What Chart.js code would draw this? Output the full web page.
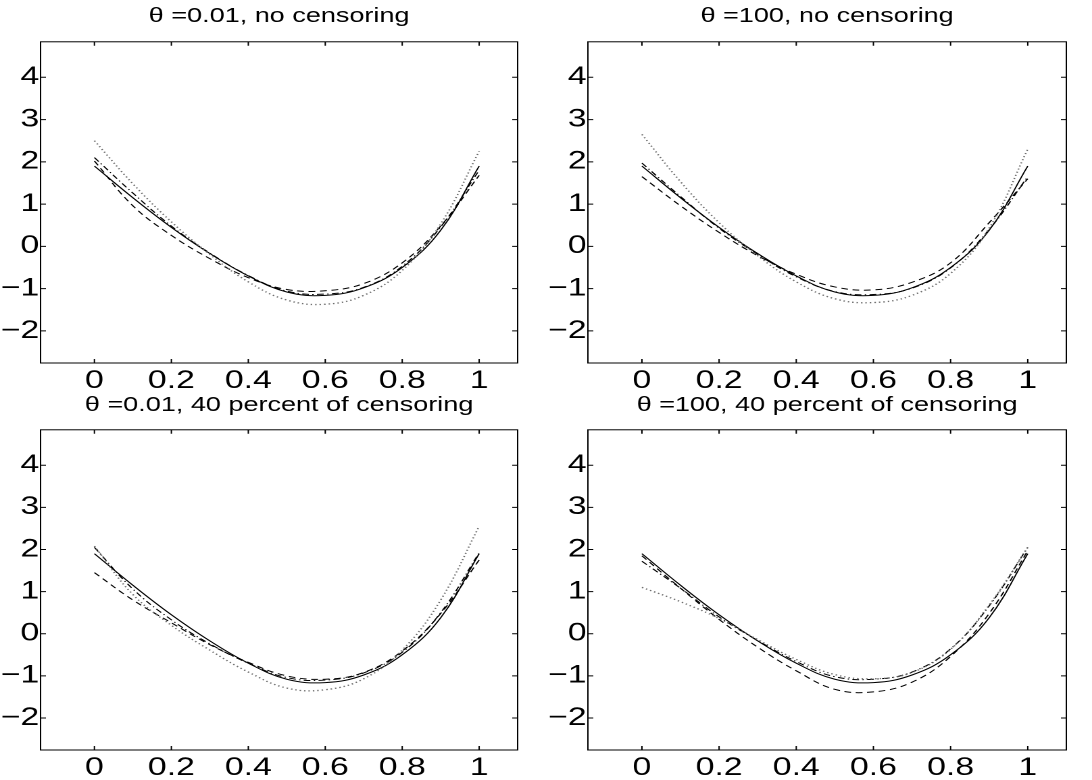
<!DOCTYPE html>
<html>
<head>
<meta charset="utf-8">
<script src="https://cdn.jsdelivr.net/npm/chart.js"></script>
<style>
html,body{margin:0;padding:0;background:#fff;}
body{width:1092px;height:780px;position:relative;overflow:hidden;}
/* the original figure is stretched sideways, so each panel is drawn narrower and scaled */
.panel{position:absolute;width:404px;height:390px;transform-origin:0 0;transform:scaleX(1.3515);}
</style>
</head>
<body>
<div class="panel" style="left:0;top:0"><canvas id="c0"></canvas></div>
<div class="panel" style="left:546px;top:0"><canvas id="c1"></canvas></div>
<div class="panel" style="left:0;top:390px"><canvas id="c2"></canvas></div>
<div class="panel" style="left:546px;top:390px"><canvas id="c3"></canvas></div>
<script>
const xs = [0, 0.1, 0.2, 0.3, 0.4, 0.5, 0.6, 0.7, 0.8, 0.9, 1];
const xTicks = [0, 0.2, 0.4, 0.6, 0.8, 1];
const yTicks = [-2, -1, 0, 1, 2, 3, 4];

const titles = [
  "\u03b8 =0.01, no censoring",
  "\u03b8 =100, no censoring",
  "\u03b8 =0.01, 40 percent of censoring",
  "\u03b8 =100, 40 percent of censoring"
];

// solid line, same in every panel
const trueCurve = [1.9, 1.15, 0.45, -0.17, -0.7, -1.08, -1.16, -0.98, -0.5, 0.38, 1.9];

// theta = 0.01, no censoring
const dotted0  = [2.5, 1.48, 0.58, -0.19, -0.84, -1.27, -1.37, -1.16, -0.57, 0.53, 2.25];
const dashed0  = [2.02, 0.96, 0.26, -0.29, -0.74, -1.02, -1.05, -0.88, -0.39, 0.48, 1.68];
const dashdot0 = [2.1, 1.26, 0.48, -0.16, -0.69, -1.06, -1.13, -0.97, -0.47, 0.46, 1.8];

// theta = 100, no censoring
const dotted1  = [2.65, 1.53, 0.56, -0.22, -0.84, -1.24, -1.33, -1.16, -0.64, 0.43, 2.3];
const dashed1  = [1.65, 0.96, 0.33, -0.22, -0.66, -0.96, -1.03, -0.85, -0.39, 0.56, 1.6];
const dashdot1 = [1.97, 1.18, 0.43, -0.19, -0.72, -1.07, -1.14, -0.99, -0.51, 0.4, 1.65];

// theta = 0.01, 40 percent of censoring
const dotted2  = [2.08, 0.93, 0.2, -0.39, -0.91, -1.29, -1.33, -1.07, -0.39, 0.8, 2.55];
const dashed2  = [1.45, 0.8, 0.26, -0.26, -0.68, -1.0, -1.08, -0.92, -0.41, 0.48, 1.75];
const dashdot2 = [2.05, 1.06, 0.33, -0.24, -0.7, -1.04, -1.1, -0.93, -0.44, 0.5, 1.92];

// theta = 100, 40 percent of censoring
const dotted3  = [1.1, 0.76, 0.36, -0.14, -0.61, -0.97, -1.07, -0.92, -0.37, 0.68, 2.05];
const dashed3  = [1.85, 1.08, 0.34, -0.32, -0.88, -1.32, -1.38, -1.15, -0.54, 0.48, 1.97];
const dashdot3 = [1.72, 1.08, 0.4, -0.16, -0.66, -1.02, -1.08, -0.91, -0.36, 0.66, 2.05];

const FONT = '"Liberation Sans", Arial, Helvetica, sans-serif';

// layout of each panel (unscaled px inside its box)
const panels = [
  {id:"c0", dotted:dotted0, dashed:dashed0, dashdot:dashdot0, yw:30, padR:21, tTop:4.6, tBot:13.2, xh:27},
  {id:"c1", dotted:dotted1, dashed:dashed1, dashdot:dashdot1, yw:31, padR:19, tTop:4.6, tBot:13.2, xh:27},
  {id:"c2", dotted:dotted2, dashed:dashed2, dashdot:dashdot2, yw:30, padR:21, tTop:3.6, tBot:12.2, xh:30},
  {id:"c3", dotted:dotted3, dashed:dashed3, dashdot:dashdot3, yw:31, padR:19, tTop:3.6, tBot:12.2, xh:30}
];

/* matlab style box with inward ticks on all sides */
const boxTicks = {
  id:"boxTicks",
  afterDraw(chart){
    const {ctx, chartArea:a} = chart;
    const x = chart.scales.x, y = chart.scales.y;
    const len = 4;
    ctx.save();
    ctx.strokeStyle = "#000";
    ctx.lineWidth = 1;
    ctx.strokeRect(a.left, a.top, a.right - a.left, a.bottom - a.top);
    ctx.beginPath();
    xTicks.forEach(v=>{
      const px = x.getPixelForValue(v);
      ctx.moveTo(px, a.bottom); ctx.lineTo(px, a.bottom - len);
      ctx.moveTo(px, a.top); ctx.lineTo(px, a.top + len);
    });
    yTicks.forEach(v=>{
      const py = y.getPixelForValue(v);
      ctx.moveTo(a.left, py); ctx.lineTo(a.left + len, py);
      ctx.moveTo(a.right, py); ctx.lineTo(a.right - len, py);
    });
    ctx.stroke();
    ctx.restore();
  }
};

function series(arr, color, dash, width){
  return {
    data: xs.map((x,i)=>({x:x, y:arr[i]})),
    borderColor: color,
    borderWidth: width,
    borderDash: dash,
    pointRadius: 0,
    tension: 0.4,
    fill: false
  };
}

function fmtY(v){
  return v < 0 ? "\u2212" + Math.abs(v) : String(v);
}

function buildPanel(p, i){
  new Chart(document.getElementById(p.id), {
    type: "line",
    data: {
      datasets: [
        series(p.dotted, "#6e6e6e", [1.1, 2.2], 1.3),
        series(p.dashed, "#000", [5, 3.5], 1),
        series(p.dashdot, "#000", [5, 2.5, 1, 2.5], 1),
        series(trueCurve, "#000", [], 1)
      ]
    },
    options: {
      responsive: true,
      maintainAspectRatio: false,
      animation: false,
      devicePixelRatio: 2,
      layout: {padding: {left:0, right:p.padR, top:0, bottom:0}},
      plugins: {
        legend: {display:false},
        tooltip: {enabled:false},
        title: {
          display: true,
          text: titles[i],
          color: "#000",
          fullSize: false,
          font: {family:FONT, size:20, weight:"normal", lineHeight:1.2},
          padding: {top:p.tTop, bottom:p.tBot}
        }
      },
      scales: {
        x: {
          type: "linear",
          min: -0.14,
          max: 1.1,
          grid: {display:false, drawTicks:false},
          border: {display:false},
          afterBuildTicks: s=>{ s.ticks = xTicks.map(v=>({value:v})); },
          afterFit: s=>{ s.height = p.xh; },
          ticks: {
            color: "#000",
            font: {family:FONT, size:25},
            padding: 3,
            maxRotation: 0,
            autoSkip: false,
            callback: v=>String(v)
          }
        },
        y: {
          type: "linear",
          min: -2.76,
          max: 4.84,
          grid: {display:false, drawTicks:false},
          border: {display:false},
          afterBuildTicks: s=>{ s.ticks = yTicks.map(v=>({value:v})); },
          afterFit: s=>{ s.width = p.yw; },
          ticks: {
            color: "#000",
            font: {family:FONT, size:25},
            padding: 1,
            autoSkip: false,
            callback: v=>fmtY(v)
          }
        }
      }
    },
    plugins: [boxTicks]
  });
}

panels.forEach(buildPanel);
</script>
</body>
</html>
